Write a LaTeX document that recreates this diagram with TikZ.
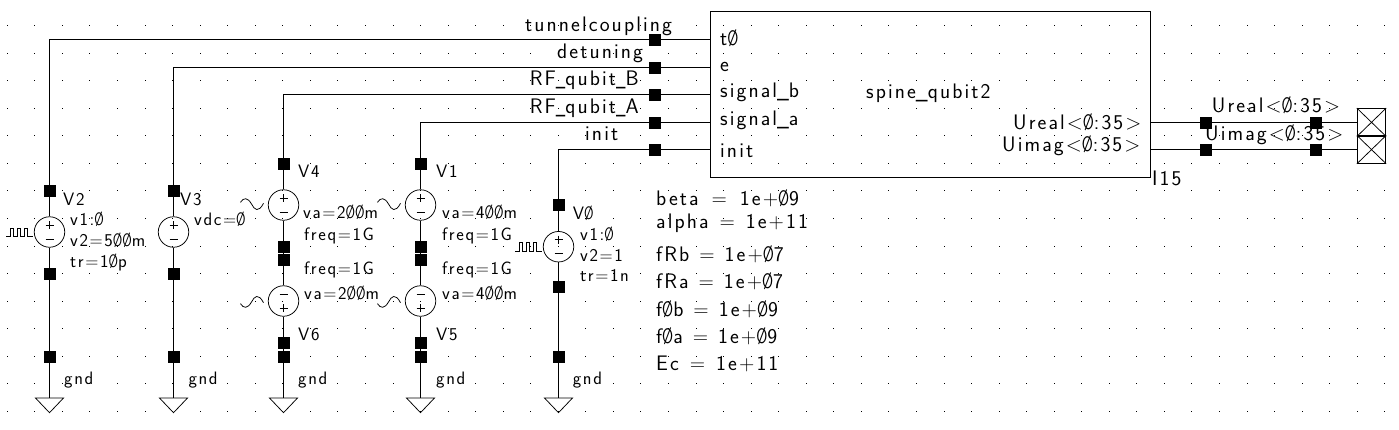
\documentclass[tikz,border=0pt]{standalone}
\usepackage{fontspec}
\setmainfont{Latin Modern Sans}
\newfontfamily\wirefont[LetterSpace=10]{Latin Modern Sans}
\newfontfamily\parfont[LetterSpace=9]{Latin Modern Sans}
\newcommand\zz{\scalebox{.72}[1]{Ø}}
\newcommand\us{\scalebox{.72}[1]{\_}}
\newcommand\uu{\scalebox{.9}[1]{\_}}
\newcommand\gap[1]{\hspace{#1pt}}
\tikzset{
  wire/.style={line width=1pt,line cap=butt},
  wirepin/.style={rectangle,fill=black,inner sep=0pt,minimum size=12pt},
  srccircle/.style={circle,draw,line width=0.75pt,inner sep=0pt,minimum size=30.5pt},
  thin mark/.style={line width=0.75pt},
  big/.style={anchor=base west,inner sep=0pt,font=\wirefont\fontsize{21}{21}\selectfont},
  small/.style={anchor=base west,inner sep=0pt,font=\parfont\fontsize{18}{18}\selectfont},
}
\newcommand\srcsigns[2]{%
  \draw[thin mark,shift={(#1.center)},yscale=#2] (-4,-7)--(4,-7) (0,-11)--(0,-3) (-4,7)--(4,7);}
\newcommand\sinemark[2]{%
  \draw[thin mark,shift={(#1.center)},yscale=#2] (-43,-2.7) .. controls (-40,-7.5) and (-36,-8) .. (-32,-1) .. controls (-29,5) and (-25,8) .. (-20,-1.7);}
\newcommand\pulsemark[1]{%
  \draw[thin mark,shift={(#1.center)}] (-43.3,4.5)--(-39.3,4.5)--(-39.3,-4)--(-36,-4)--(-36,4.5)--(-32.6,4.5)--(-32.6,-4)--(-29.3,-4)--(-29.3,4.5)--(-25.3,4.5)--(-25.3,-4)--(-22,-4)--(-22,4.5)--(-16.6,4.5);}
\newcommand\groundmark[1]{%
  \draw[thin mark] (#1) ++(-14,0) -- ++(28,0) -- ++(-14,14.7) -- cycle;}
\begin{document}
\begin{tikzpicture}[x=1pt,y=-1pt]
\useasboundingbox (0,0) rectangle (1399,429);
\fill[white] (0,0) rectangle (1399,429);
% grid
\foreach \i in {0,...,50}{\foreach \j in {0,...,14}{
  \fill ({int(7.3+27.55*\i)},{int(25.6+27.55*\j)}) rectangle +(1,1);}}
% main block
\node[rectangle,draw,line width=1pt,minimum width=440pt,minimum height=166pt,inner sep=0pt] (box) at (930.5,94.5) {};
% input pins
\node[wirepin] (pT) at (655,39.5) {};
\node[wirepin] (pE) at (655,67.5) {};
\node[wirepin] (pB) at (655,94.5) {};
\node[wirepin] (pA) at (655,122.5) {};
\node[wirepin] (pI) at (655,149.5) {};
% V2
\node[wirepin] (a1) at (49.5,190.7) {};
\node[srccircle] (v2) at (49.5,232) {};
\node[wirepin] (a2) at (49.5,273.7) {};
\node[wirepin] (a3) at (49.5,356.7) {};
\coordinate (ga) at (49.5,398);
% V3
\node[wirepin] (b1) at (173.5,190.7) {};
\node[srccircle] (v3) at (173.5,232) {};
\node[wirepin] (b2) at (173.5,273.7) {};
\node[wirepin] (b3) at (173.5,356.7) {};
\coordinate (gb) at (173.5,398);
% V4 / V6
\node[wirepin] (c1) at (283.5,164) {};
\node[srccircle] (v4) at (283.5,205) {};
\node[wirepin] (c2) at (283.5,246.7) {};
\node[wirepin] (c3) at (283.5,259.5) {};
\node[srccircle] (v6) at (283.5,301) {};
\node[wirepin] (c4) at (283.5,342.7) {};
\node[wirepin] (c5) at (283.5,356.7) {};
\coordinate (gc) at (283.5,398);
% V1 / V5
\node[wirepin] (d1) at (420.5,164) {};
\node[srccircle] (v1) at (420.5,205) {};
\node[wirepin] (d2) at (420.5,246.7) {};
\node[wirepin] (d3) at (420.5,259.5) {};
\node[srccircle] (v5) at (420.5,301) {};
\node[wirepin] (d4) at (420.5,342.7) {};
\node[wirepin] (d5) at (420.5,356.7) {};
\coordinate (gd) at (420.5,398);
% V0
\node[wirepin] (e1) at (558.5,205) {};
\node[srccircle] (v0) at (558.5,246.7) {};
\node[wirepin] (e2) at (558.5,287.3) {};
\node[wirepin] (e3) at (558.5,356.7) {};
\coordinate (ge) at (558.5,398);
% outputs
\node[wirepin] (oR1) at (1206,122.5) {};
\node[wirepin] (oR2) at (1316,122.5) {};
\node[wirepin] (oI1) at (1206,149.5) {};
\node[wirepin] (oI2) at (1316,149.5) {};
\node[rectangle,draw,line width=0.9pt,minimum width=28.4pt,minimum height=27.5pt,inner sep=0pt] (t1) at (1371.5,122.3) {};
\node[rectangle,draw,line width=0.9pt,minimum width=28.4pt,minimum height=27.5pt,inner sep=0pt] (t2) at (1371.5,149.6) {};
\draw[thin mark] (t1.north west)--(t1.south east) (t1.north east)--(t1.south west)
                 (t2.north west)--(t2.south east) (t2.north east)--(t2.south west);
% wires
\draw[wire] (box.west |- pT) -- (pT.center) -| (a1.center);
\draw[wire] (box.west |- pE) -- (pE.center) -| (b1.center);
\draw[wire] (box.west |- pB) -- (pB.center) -| (c1.center);
\draw[wire] (box.west |- pA) -- (pA.center) -| (d1.center);
\draw[wire] (box.west |- pI) -- (pI.center) -| (e1.center);
\draw[wire] (a1) -- (v2); \draw[wire] (v2) -- (a2); \draw[wire] (a2.center) -- (a3.center) -- (ga);
\draw[wire] (b1) -- (v3); \draw[wire] (v3) -- (b2); \draw[wire] (b2.center) -- (b3.center) -- (gb);
\draw[wire] (c1) -- (v4); \draw[wire] (v4) -- (c2); \draw[wire] (c2.center) -- (c3.center) -- (v6); \draw[wire] (v6) -- (c4); \draw[wire] (c4.center) -- (c5.center) -- (gc);
\draw[wire] (d1) -- (v1); \draw[wire] (v1) -- (d2); \draw[wire] (d2.center) -- (d3.center) -- (v5); \draw[wire] (v5) -- (d4); \draw[wire] (d4.center) -- (d5.center) -- (gd);
\draw[wire] (e1) -- (v0); \draw[wire] (v0) -- (e2); \draw[wire] (e2.center) -- (e3.center) -- (ge);
\draw[wire] (box.east |- oR1) -- (oR1.center) -- (oR2.center) -- (t1.west |- oR2);
\draw[wire] (box.east |- oI1) -- (oI1.center) -- (oI2.center) -- (t2.west |- oI2);
% source marks
\srcsigns{v2}{1}\pulsemark{v2}
\srcsigns{v3}{1}
\srcsigns{v4}{1}\sinemark{v4}{1}
\srcsigns{v6}{-1}\sinemark{v6}{-1}
\srcsigns{v1}{1}\sinemark{v1}{1}
\srcsigns{v5}{-1}\sinemark{v5}{-1}
\srcsigns{v0}{1}\pulsemark{v0}
\groundmark{ga}\groundmark{gb}\groundmark{gc}\groundmark{gd}\groundmark{ge}
% wire labels
\node[big] (l1) at (525,31) {tunnelcoupling};
\node[big] (l2) at (557,58.5) {detuning};
\node[big] (l3) at (529.7,85) {RF\us qubit\us B};
\node[big] (l4) at (529.7,113) {RF\us qubit\us A};
\node[big] (l5) at (585,140) {init};
\node[big] (l6) at (720,45.7) {t\zz};
\node[big] (l7) at (720,71.5) {e};
\node[big] (l8) at (720,97) {signal\uu b};
\node[big] (l9) at (720,125.7) {signal\uu a};
\node[big] (l10) at (720,157) {init};
\node[big] (l11) at (866,98.3) {spine\uu qubit2};
\node[big] (l12) at (1013,129.3) {Ureal<\zz:35>};
\node[big] (l13) at (1002,151.7) {Uimag<\zz:35>};
\node[big] (l14) at (1211.7,112.3) {Ureal<\zz:35>};
\node[big] (l15) at (1205,140.7) {Uimag<\zz:35>};
\node[big] (l16) at (1152,185) {I15};
% parameters
\node[small] (s1) at (63,205.7) {V2};
\node[small] (s2) at (70,225.7) {v1:\zz};
\node[small] (s3) at (70,246.7) {v2=5\zz\zz m};
\node[small] (s4) at (70,267.3) {tr=1\zz p};
\node[small] (s5) at (180,205.7) {V3};
\node[small] (s6) at (194,225.7) {vdc=\zz};
\node[small] (s7) at (64,384) {gnd};
\node[small] (s8) at (188.3,384) {gnd};
\node[small] (s9) at (298,177.3) {V4};
\node[small] (s10) at (303,218.3) {va=2\zz\zz m};
\node[small] (s11) at (304,240) {freq=1G};
\node[small] (s12) at (304,274) {freq=1G};
\node[small] (s13) at (304,299) {va=2\zz\zz m};
\node[small] (s14) at (298,340) {V6};
\node[small] (s15) at (298,384) {gnd};
\node[small] (s16) at (436,177.3) {V1};
\node[small] (s17) at (442,218.3) {va=4\zz\zz m};
\node[small] (s18) at (442,240) {freq=1G};
\node[small] (s19) at (442,274) {freq=1G};
\node[small] (s20) at (442,299) {va=4\zz\zz m};
\node[small] (s21) at (436,340) {V5};
\node[small] (s22) at (436,384) {gnd};
\node[small] (s23) at (572.7,219) {V\zz};
\node[small] (s24) at (580,240) {v1:\zz};
\node[small] (s25) at (580,261.7) {v2=1};
\node[small] (s26) at (580,281.7) {tr=1n};
\node[small] (s27) at (572.7,384) {gnd};
\node[big] (q1) at (656,205.7) {beta\gap{13}=\gap{13}1e+\zz 9};
\node[big] (q2) at (656,228.3) {alpha\gap{11}=\gap{11}1e+11};
\node[big] (q3) at (656,261.7) {fRb\gap{10}=\gap{10}1e+\zz 7};
\node[big] (q4) at (656,288.3) {fRa\gap{10}=\gap{10}1e+\zz 7};
\node[big] (q5) at (656,316) {f\zz b\gap{10}=\gap{10}1e+\zz 9};
\node[big] (q6) at (656,343) {f\zz a\gap{10}=\gap{10}1e+\zz 9};
\node[big] (q7) at (656,370) {Ec\gap{11}=\gap{11}1e+11};
\end{tikzpicture}
\end{document}
